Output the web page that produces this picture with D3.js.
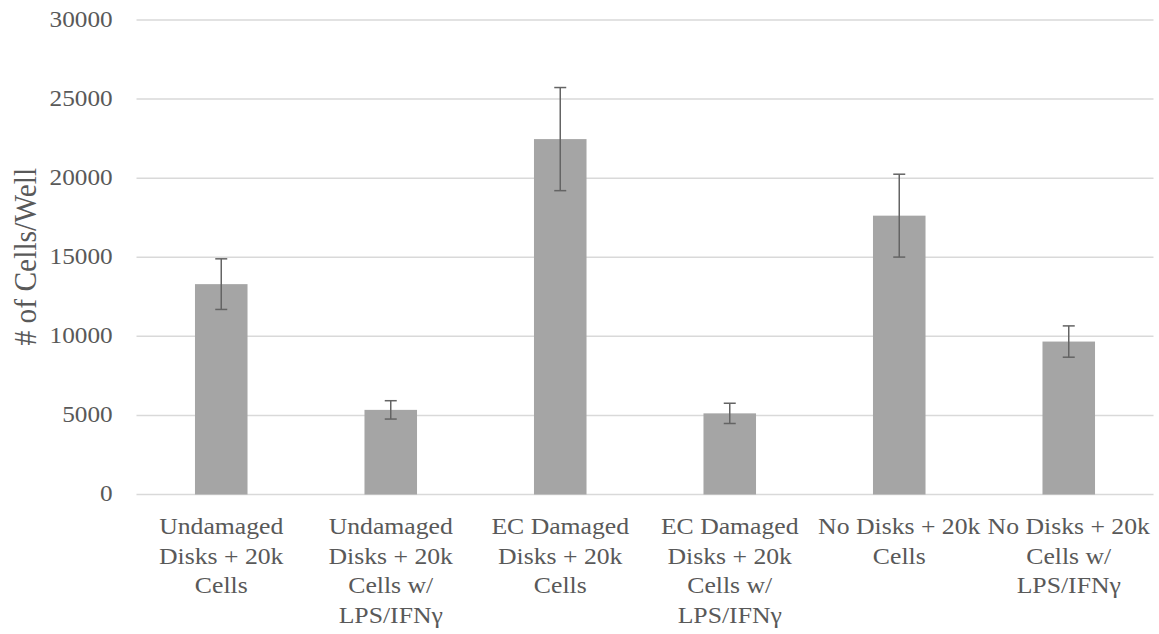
<!DOCTYPE html>
<html>
<head>
<meta charset="utf-8">
<script src="https://cdn.jsdelivr.net/npm/d3@7"></script>
<style>
  body { margin: 0; background: #fff; }
  svg { display: block; }
</style>
</head>
<body>
<svg id="chart" width="1159" height="634"></svg>
<script>
const categories = [
  ["Undamaged", "Disks + 20k", "Cells"],
  ["Undamaged", "Disks + 20k", "Cells w/", "LPS/IFNγ"],
  ["EC Damaged", "Disks + 20k", "Cells"],
  ["EC Damaged", "Disks + 20k", "Cells w/", "LPS/IFNγ"],
  ["No Disks + 20k", "Cells"],
  ["No Disks + 20k", "Cells w/", "LPS/IFNγ"]
];
const values = [13300, 5350, 22470, 5130, 17630, 9670];
const errors = [1600, 580, 3260, 640, 2620, 990];
const yTicks = [0, 5000, 10000, 15000, 20000, 25000, 30000];
const yTitle = "# of Cells/Well";

(function () {
const svg = d3.select("#chart");
const mLeft = 136.5, mRight = 1153.5, mTop = 20, mBottom = 494.5;
const font = "'Liberation Serif', 'Times New Roman', serif";
const textColor = "#595959";
const sx = 1.08;

const ids = categories.map((d, i) => i);
const x = d3.scaleBand().domain(ids).range([mLeft, mRight]).padding(0);
const y = d3.scaleLinear().domain([0, 30000]).range([mBottom, mTop]);
const barW = x.bandwidth() * 0.31;

// gridlines
svg.append("g").selectAll("line").data(yTicks).join("line")
  .attr("x1", mLeft).attr("x2", mRight)
  .attr("y1", d => y(d)).attr("y2", d => y(d))
  .attr("stroke", "#d9d9d9").attr("stroke-width", 1.5);

// y axis tick labels
const yAxis = d3.axisLeft(y).tickValues(yTicks).tickSize(0).tickPadding(0).tickFormat(d3.format("d"));
const ya = svg.append("g").attr("transform", `translate(${112.7},0)`).call(yAxis);
ya.select(".domain").remove();
ya.selectAll("text")
  .attr("x", 0)
  .attr("font-family", font).attr("font-size", 23.4).attr("fill", textColor)
  .attr("dy", "0.27em")
  .attr("transform", `scale(${sx},1)`);

// y title
svg.append("text")
  .attr("transform", `translate(36,256.7) rotate(-90) scale(1,${sx})`)
  .attr("text-anchor", "middle")
  .attr("font-family", font).attr("font-size", 29.5).attr("fill", textColor)
  .text(yTitle);

// bars
svg.append("g").selectAll("rect").data(values).join("rect")
  .attr("x", (d, i) => x(i) + x.bandwidth() / 2 - barW / 2)
  .attr("width", barW)
  .attr("y", d => y(d))
  .attr("height", d => y(0) - y(d))
  .attr("fill", "#a5a5a5");

// error bars
const eg = svg.append("g").attr("stroke", "#646464").attr("stroke-width", 1.5);
values.forEach((v, i) => {
  const cx = x(i) + x.bandwidth() / 2;
  const hi = y(v + errors[i]), lo = y(v - errors[i]);
  eg.append("line").attr("x1", cx).attr("x2", cx).attr("y1", hi).attr("y2", lo);
  eg.append("line").attr("x1", cx - 6).attr("x2", cx + 6).attr("y1", hi).attr("y2", hi);
  eg.append("line").attr("x1", cx - 6).attr("x2", cx + 6).attr("y1", lo).attr("y2", lo);
});

// category labels
const xl = svg.append("g");
categories.forEach((lines, i) => {
  const cx = x(i) + x.bandwidth() / 2;
  const t = xl.append("text")
    .attr("transform", `translate(${cx},0) scale(${sx},1)`)
    .attr("text-anchor", "middle")
    .attr("font-family", font).attr("font-size", 23.8).attr("fill", textColor);
  lines.forEach((ln, j) => {
    t.append("tspan").attr("x", 0).attr("y", 534.3 + j * 29.5).text(ln);
  });
});
})();
</script>
</body>
</html>
